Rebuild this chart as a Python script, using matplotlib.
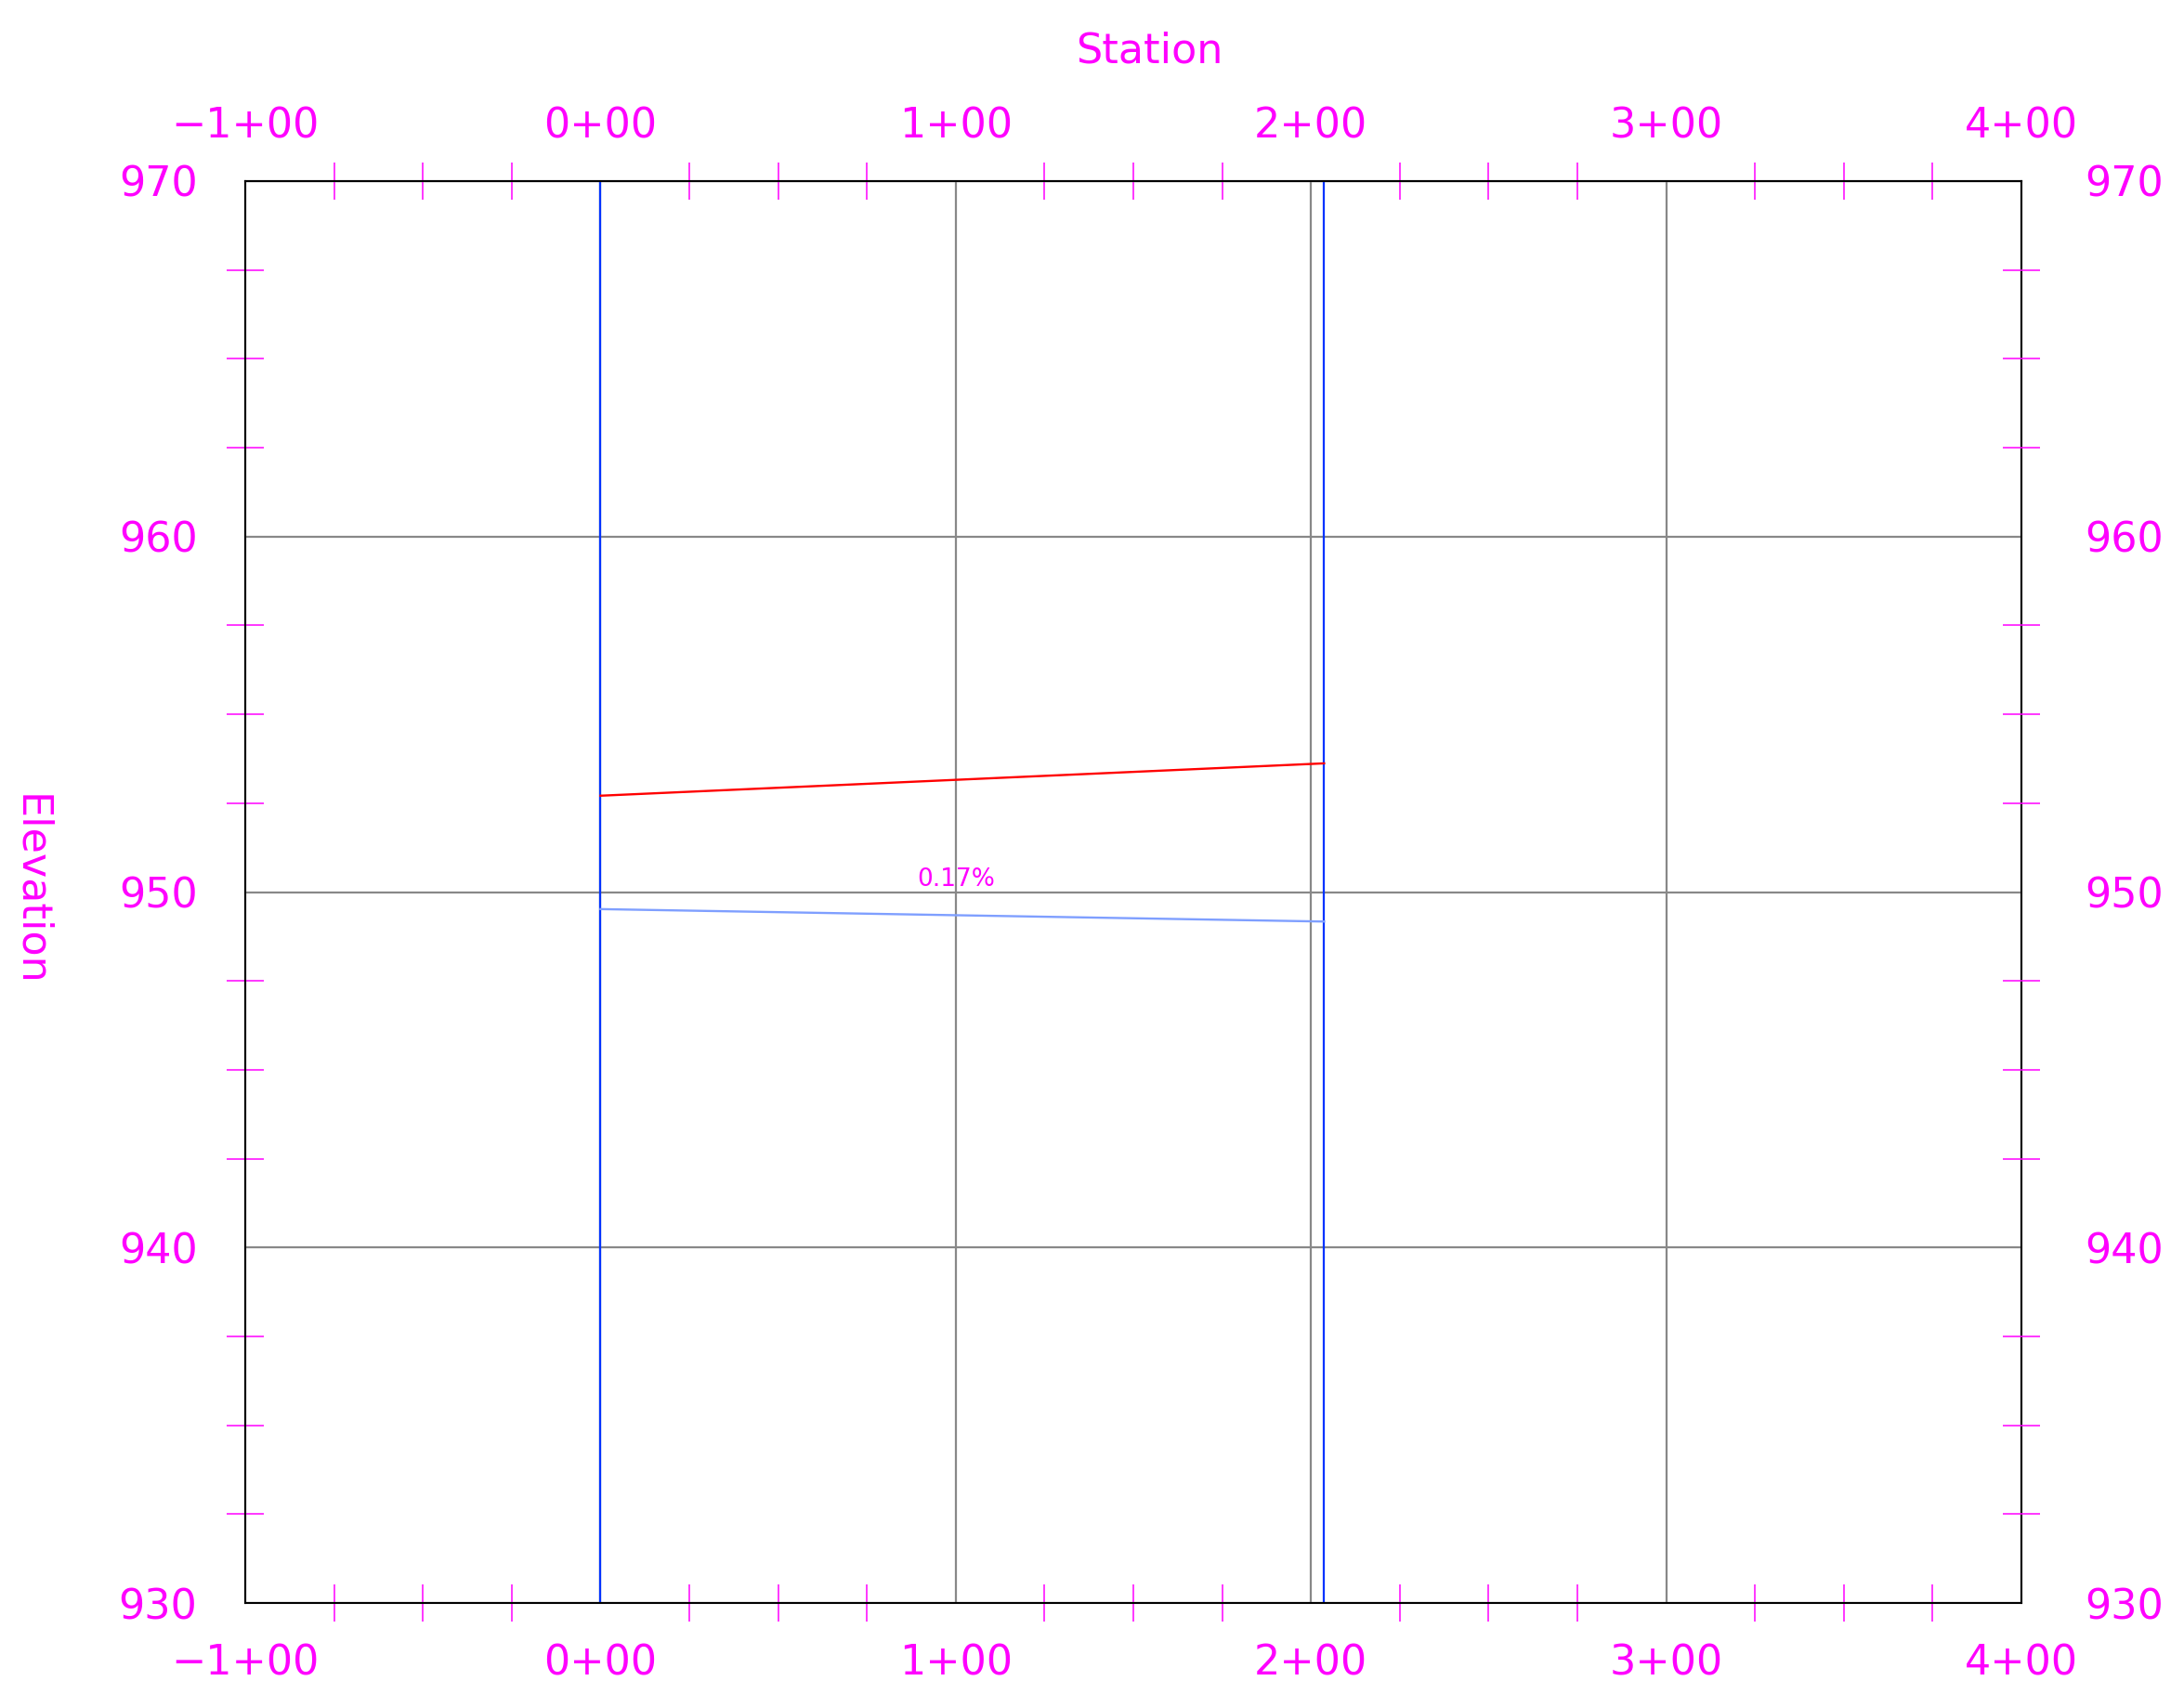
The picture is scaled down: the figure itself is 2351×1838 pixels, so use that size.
import matplotlib.pyplot as plt
from matplotlib.ticker import FixedLocator

# Profile data (station in ft, elevation in ft)
pipe_sta = [0.0, 203.7]
ground_elev = [952.71, 953.62]     # red line
invert_elev = [949.52, 949.17]     # light blue line
grade_label = "0.17%"
grade_label_sta = 100.0
grade_label_elev = 950.0
structure_sta = [0.0, 203.7]       # blue vertical lines

x_lim = (-100, 400)
y_lim = (930, 970)
x_major = [-100, 0, 100, 200, 300, 400]
x_minor = [s for s in range(-100, 401, 25) if s % 100 != 0]
y_major = [930, 940, 950, 960, 970]
y_minor = [e / 10 for e in range(9300, 9701, 25) if e % 100 != 0]

MAG = "#ff00ff"
FS = 32
plt.rcParams['font.family'] = ['DejaVu Sans']


def sta_label(v):
    v = int(v)
    sign = "\u2212" if v < 0 else ""
    v = abs(v)
    return f"{sign}{v // 100}+{v % 100:02d}"


fig = plt.figure(figsize=(23.51, 18.38), dpi=100)
ax = fig.add_axes([264 / 2351, 1 - 1726 / 1838, (2176 - 264) / 2351, (1726 - 195) / 1838])
ax.set_xlim(*x_lim)
ax.set_ylim(*y_lim)

# grid
ax.xaxis.set_major_locator(FixedLocator(x_major))
ax.yaxis.set_major_locator(FixedLocator(y_major))
ax.xaxis.set_minor_locator(FixedLocator(x_minor))
ax.yaxis.set_minor_locator(FixedLocator(y_minor))
ax.grid(which='major', color='#888888', linewidth=1.6)
ax.set_axisbelow(True)

# profile lines
for s in structure_sta:
    ax.axvline(s, color='#0033ff', linewidth=1.6, zorder=3)
ax.plot(pipe_sta, ground_elev, color='#ff0000', linewidth=1.7, zorder=4)
ax.plot(pipe_sta, invert_elev, color='#7f9fff', linewidth=1.7, zorder=4)
ax.text(grade_label_sta, grade_label_elev, grade_label, color=MAG, fontsize=19,
        ha='center', va='bottom')

# ticks and labels (bottom / left)
ax.set_xticklabels([sta_label(v) for v in x_major])
ax.tick_params(axis='x', which='major', length=0, pad=31, labelsize=FS,
               labelcolor=MAG)
ax.tick_params(axis='x', which='minor', direction='inout', length=29, width=1.1,
               color=MAG, top=True, bottom=True)
ax.tick_params(axis='y', which='major', length=0, pad=37, labelsize=FS,
               labelcolor=MAG)
ax.tick_params(axis='y', which='minor', direction='inout', length=29, width=1.1,
               color=MAG, left=True, right=False)

for sp in ax.spines.values():
    sp.set_color('black')
    sp.set_linewidth(1.5)
    sp.set_zorder(5)

# top station labels
top = ax.secondary_xaxis('top')
top.set_xticks(x_major)
top.set_xticklabels([sta_label(v) for v in x_major])
top.tick_params(axis='x', length=0, pad=27, labelsize=FS, labelcolor=MAG)
top.spines['top'].set_linewidth(1.5)

# right side elevation labels and ticks
ax2 = ax.twinx()
ax2.set_ylim(*y_lim)
ax2.yaxis.set_major_locator(FixedLocator(y_major))
ax2.yaxis.set_minor_locator(FixedLocator(y_minor))
ax2.tick_params(axis='y', which='major', length=0, pad=49, labelsize=FS,
                labelcolor=MAG)
ax2.tick_params(axis='y', which='minor', direction='inout', length=29, width=1.1,
                color=MAG, right=True)
for sp in ax2.spines.values():
    sp.set_visible(False)

fig.text(1237 / 2351, 1 - 55 / 1838, "Station", color=MAG, fontsize=FS,
         ha='center', va='center')
fig.text(33 / 2351, 1 - 958 / 1838, "Elevation", color=MAG, fontsize=FS,
         ha='center', va='center', rotation=270)

fig.savefig("out.png", dpi=100)
